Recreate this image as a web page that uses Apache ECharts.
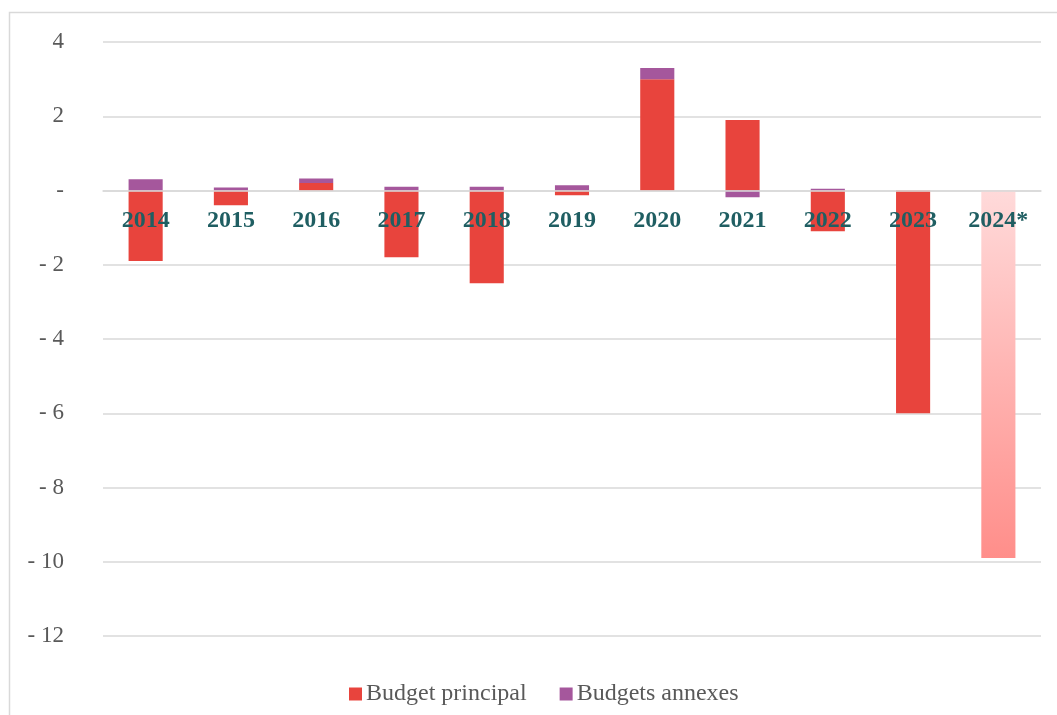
<!DOCTYPE html>
<html>
<head>
<meta charset="utf-8">
<script src="https://cdn.jsdelivr.net/npm/echarts@6/dist/echarts.min.js"></script>
<style>
html,body{margin:0;padding:0;background:#fff;}
#chart{width:1057px;height:715px;}
</style>
</head>
<body>
<div id="chart"></div>
<script>
const categories = ['2014','2015','2016','2017','2018','2019','2020','2021','2022','2023','2024*'];
const budgetPrincipal = [-1.9, -0.4, 0.2, -1.8, -2.5, -0.13, 3.0, 1.9, -1.1, -6.0, -9.9];
const budgetsAnnexes = [0.3, 0.08, 0.12, 0.1, 0.1, 0.14, 0.3, -0.18, 0.05, 0, 0];
const seriesNames = ['Budget principal', 'Budgets annexes'];
const yTicks = {min: -12, max: 4, interval: 2};

const serif = '"Liberation Serif", "Times New Roman", serif';
const chart = echarts.init(document.getElementById('chart'));

const gridTop = 42, gridBottom = 79, chartH = 715;
const plotH = chartH - gridTop - gridBottom;
// distance from bottom of plot to the zero value, in pixels (via axis extent)
const zeroOffset = -plotH * (0 - yTicks.min) / (yTicks.max - yTicks.min);

const principalData = budgetPrincipal.map((v, i) => {
  if (i === categories.length - 1) {
    return {
      value: v,
      itemStyle: {
        color: new echarts.graphic.LinearGradient(0, 0, 0, 1, [
          {offset: 0, color: '#FFDADA'},
          {offset: 1, color: '#FF8E8A'}
        ])
      }
    };
  }
  return v;
});

chart.setOption({
  animation: false,
  backgroundColor: '#fff',
  graphic: [{
    type: 'rect',
    shape: {x: 9.5, y: 12.5, width: 1200, height: 900},
    style: {fill: 'none', stroke: '#D9D9D9', lineWidth: 1.5},
    silent: true
  }],
  grid: {left: 103, right: 16, top: gridTop, bottom: gridBottom, containLabel: false},
  legend: {
    left: 344,
    top: 677,
    itemWidth: 13,
    itemHeight: 13,
    itemGap: 33,
    icon: 'rect',
    textStyle: {fontFamily: serif, fontSize: 24, color: '#595959', padding: [0, 0, 0, -1]},
    data: seriesNames
  },
  xAxis: {
    type: 'category',
    data: categories,
    z: 10,
    position: 'bottom',
    offset: zeroOffset,
    axisLine: {show: true, onZero: false, lineStyle: {color: '#D9D9D9', width: 1.5}},
    axisTick: {show: false},
    axisLabel: {
      margin: 18,
      fontFamily: serif,
      fontSize: 24,
      fontWeight: 'bold',
      color: '#1F5E62'
    }
  },
  yAxis: {
    type: 'value',
    min: yTicks.min,
    max: yTicks.max,
    interval: yTicks.interval,
    axisLine: {show: false},
    axisTick: {show: false},
    splitLine: {lineStyle: {color: '#D9D9D9', width: 1.5}},
    axisLabel: {
      margin: 39,
      fontFamily: serif,
      fontSize: 23,
      color: '#595959',
      formatter: function (v) {
        if (v === 0) return '-';
        if (v < 0) return '- ' + Math.abs(v);
        return String(v);
      }
    }
  },
  series: [
    {
      name: seriesNames[0],
      type: 'bar',
      stack: 'total',
      barWidth: '40%',
      itemStyle: {color: '#E8443D'},
      data: principalData
    },
    {
      name: seriesNames[1],
      type: 'bar',
      stack: 'total',
      barWidth: '40%',
      itemStyle: {color: '#A5579C'},
      data: budgetsAnnexes
    }
  ]
});
</script>
</body>
</html>
